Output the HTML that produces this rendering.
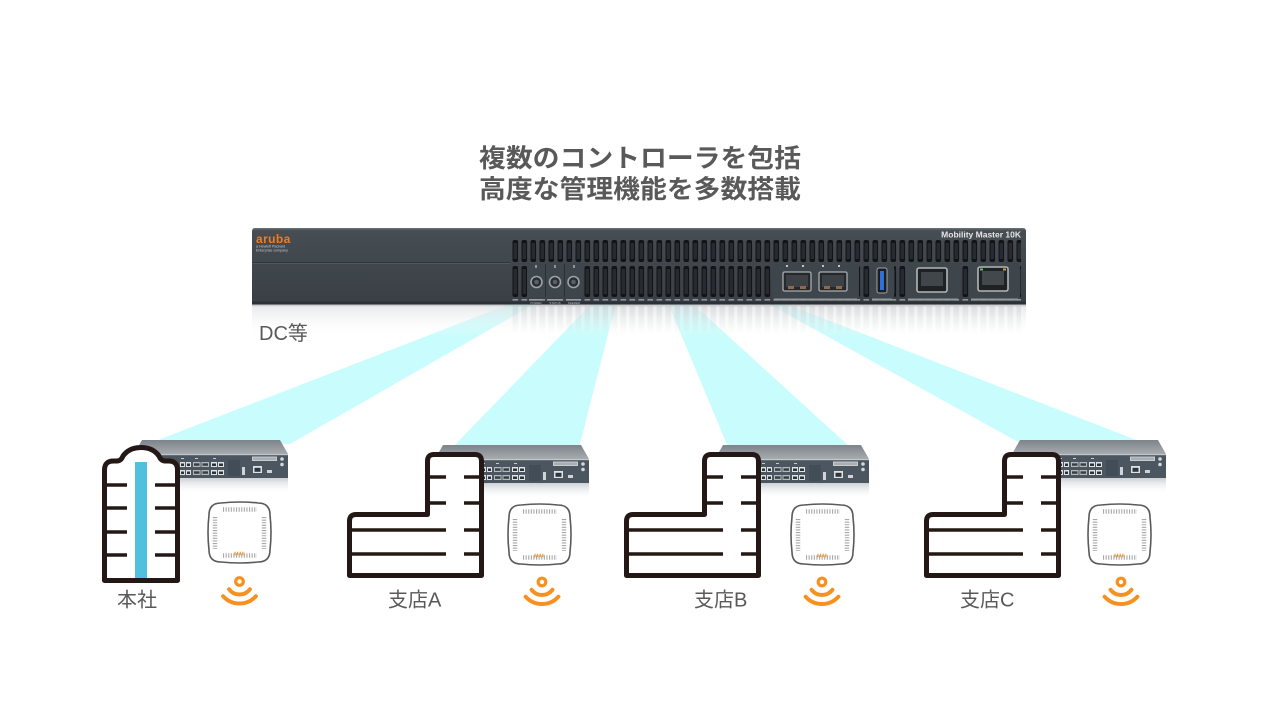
<!DOCTYPE html>
<html>
<head>
<meta charset="utf-8">
<style>
  html,body{margin:0;padding:0;background:#ffffff;}
  body{width:1280px;height:720px;overflow:hidden;}
  svg{display:block;}
  .t{font-family:"Liberation Sans","Noto Sans CJK JP",sans-serif;}
</style>
</head>
<body>
<svg width="1280" height="720" viewBox="0 0 1280 720" xmlns="http://www.w3.org/2000/svg">
<defs>
  <linearGradient id="body" x1="0" y1="0" x2="0" y2="1">
    <stop offset="0" stop-color="#555c62"/>
    <stop offset="0.04" stop-color="#464d53"/>
    <stop offset="1" stop-color="#393f44"/>
  </linearGradient>
  <linearGradient id="refl" x1="0" y1="0" x2="0" y2="1">
    <stop offset="0" stop-color="#8f959a" stop-opacity="0.9"/>
    <stop offset="0.12" stop-color="#e2e4e6" stop-opacity="0.75"/>
    <stop offset="1" stop-color="#ffffff" stop-opacity="0"/>
  </linearGradient>
  <linearGradient id="slotFade" x1="0" y1="0" x2="0" y2="1">
    <stop offset="0" stop-color="#8a9095" stop-opacity="0.16"/>
    <stop offset="1" stop-color="#8a9095" stop-opacity="0"/>
  </linearGradient>
  <pattern id="vents" patternUnits="userSpaceOnUse" x="511" y="238" width="9" height="64">
    <rect x="1.5" y="2" width="5.6" height="22" rx="2" fill="#121417"/>
    <rect x="2.6" y="5" width="3.4" height="16" fill="#272b2f"/>
    <rect x="1.5" y="28" width="5.6" height="31" rx="2" fill="#121417"/>
    <rect x="2.6" y="31" width="3.4" height="25" fill="#272b2f"/>
    <rect x="1.5" y="61" width="5.6" height="1.6" fill="#8e9499"/>
  </pattern>
  <pattern id="ventsR" patternUnits="userSpaceOnUse" x="511" y="306" width="9" height="30">
    <rect x="1.5" y="0" width="5.6" height="28" fill="url(#slotFade)"/>
  </pattern>
  <linearGradient id="ctop" x1="0" y1="0" x2="0" y2="1">
    <stop offset="0" stop-color="#7d848a"/>
    <stop offset="1" stop-color="#a6abaf"/>
  </linearGradient>
  <linearGradient id="cref" x1="0" y1="0" x2="0" y2="1">
    <stop offset="0" stop-color="#9aa2a9" stop-opacity="0.5"/>
    <stop offset="1" stop-color="#ffffff" stop-opacity="0"/>
  </linearGradient>

  <g id="ctl">
    <polygon points="7,0 145,0 153,14 -1,14" fill="url(#ctop)"/>
    <rect x="-1" y="14" width="154" height="24" fill="#4b5661"/>
    <rect x="-1" y="14" width="154" height="1.2" fill="#c4c8cb"/>
    <rect x="-1" y="38" width="154" height="16" fill="url(#cref)"/>
    <rect x="46" y="18" width="3" height="1" fill="#c9cdd0"/>
    <rect x="60" y="18" width="3" height="1" fill="#c9cdd0"/>
    <rect x="78" y="18" width="3" height="1" fill="#c9cdd0"/>
    <rect x="45" y="22" width="5" height="5" fill="#dde1e4"/><rect x="46" y="23.5" width="3" height="2.5" fill="#2c3236"/>
    <rect x="51" y="22" width="5" height="5" fill="#dde1e4"/><rect x="52" y="23.5" width="3" height="2.5" fill="#2c3236"/>
    <rect x="45" y="30" width="5" height="5" fill="#dde1e4"/><rect x="46" y="31.5" width="3" height="2.5" fill="#2c3236"/>
    <rect x="51" y="30" width="5" height="5" fill="#dde1e4"/><rect x="52" y="31.5" width="3" height="2.5" fill="#2c3236"/>
    <rect x="58" y="22" width="7.5" height="5" fill="#b4b9bd"/><rect x="59" y="23.3" width="5.5" height="2.5" fill="#3a3f43"/>
    <rect x="66.5" y="22" width="7.5" height="5" fill="#b4b9bd"/><rect x="67.5" y="23.3" width="5.5" height="2.5" fill="#3a3f43"/>
    <rect x="58" y="30" width="7.5" height="5" fill="#b4b9bd"/><rect x="59" y="31.3" width="5.5" height="2.5" fill="#3a3f43"/>
    <rect x="66.5" y="30" width="7.5" height="5" fill="#b4b9bd"/><rect x="67.5" y="31.3" width="5.5" height="2.5" fill="#3a3f43"/>
    <rect x="76" y="22" width="6" height="5" fill="#e2e5e8"/><rect x="77" y="23.5" width="4" height="2.5" fill="#2c3236"/>
    <rect x="83" y="22" width="6" height="5" fill="#e2e5e8"/><rect x="84" y="23.5" width="4" height="2.5" fill="#2c3236"/>
    <rect x="76" y="30" width="6" height="5" fill="#e2e5e8"/><rect x="77" y="31.5" width="4" height="2.5" fill="#2c3236"/>
    <rect x="83" y="30" width="6" height="5" fill="#e2e5e8"/><rect x="84" y="31.5" width="4" height="2.5" fill="#2c3236"/>
    <rect x="93" y="20" width="12" height="16" fill="#434d57"/>
    <rect x="107" y="27" width="3" height="8" fill="#d0d4d7"/>
    <rect x="118" y="26" width="9" height="7" fill="#dfe3e6"/><rect x="119.5" y="27.8" width="6" height="4" fill="#30363b"/>
    <rect x="132" y="30" width="5" height="3" fill="#cfd3d6"/>
    <rect x="117" y="16.5" width="25" height="4.5" fill="#c9cdd0"/>
    <rect x="118" y="17.5" width="23" height="2.5" fill="#a9aeb2"/>
    <circle cx="147" cy="19" r="1.8" fill="#d5d8db"/>
    <circle cx="147" cy="24.5" r="1.8" fill="#d5d8db"/>
  </g>

  <g id="ap">
    <path d="M12,0 Q31,-2 49,0 Q61,0 61,12 Q63,29.5 61,47 Q61,59 49,59 Q31,61 12,59 Q0,59 0,47 Q-2,29.5 0,12 Q0,0 12,0 Z" fill="#ffffff" stroke="#5a5a5a" stroke-width="1.6"/>
    <line x1="14" y1="6.5" x2="48" y2="6.5" stroke="#a8a8a8" stroke-width="4.5" stroke-dasharray="1.1 1.5"/>
    <line x1="6" y1="14" x2="6" y2="46" stroke="#a8a8a8" stroke-width="4.5" stroke-dasharray="1.1 1.5"/>
    <line x1="55" y1="14" x2="55" y2="46" stroke="#a8a8a8" stroke-width="4.5" stroke-dasharray="1.1 1.5"/>
    <line x1="14" y1="52.5" x2="48" y2="52.5" stroke="#a8a8a8" stroke-width="4.5" stroke-dasharray="1.1 1.5"/>
    <line x1="25.5" y1="50.5" x2="36" y2="50.5" stroke="#f7901e" stroke-width="3.5" stroke-dasharray="1.1 1.5"/>
  </g>

  <g id="wifi" fill="none" stroke="#f7901e" stroke-linecap="round">
    <circle cx="0" cy="0" r="3.8" stroke-width="3.2"/>
    <path d="M10.4,7.8 A13,13 0 0 1 -10.4,7.8" stroke-width="4"/>
    <path d="M16.4,14.7 A22,22 0 0 1 -16.4,14.7" stroke-width="4"/>
  </g>

  <g id="branch">
    <path d="M349.5,575.5 V521 Q349.5,514.5 356,514.5 H427.5 V461 Q427.5,454.5 434,454.5 H475 Q481.5,454.5 481.5,461 V575.5 Z" fill="#ffffff" stroke="#231815" stroke-width="5" stroke-linejoin="round"/>
    <g stroke="#231815" stroke-width="3.6">
      <line x1="429" y1="477" x2="446" y2="477"/>
      <line x1="464" y1="477" x2="481" y2="477"/>
      <line x1="429" y1="503" x2="446" y2="503"/>
      <line x1="464" y1="503" x2="481" y2="503"/>
      <line x1="350" y1="530" x2="446" y2="530"/>
      <line x1="464" y1="530" x2="481" y2="530"/>
      <line x1="350" y1="554" x2="446" y2="554"/>
      <line x1="464" y1="554" x2="481" y2="554"/>
    </g>
  </g>
</defs>

<!-- Title -->
<text class="t" x="479" y="167" font-size="25.5" font-weight="bold" fill="#595959" textLength="322" lengthAdjust="spacingAndGlyphs">複数のコントローラを包括</text>
<text class="t" x="479" y="198" font-size="25.5" font-weight="bold" fill="#595959" textLength="322" lengthAdjust="spacingAndGlyphs">高度な管理機能を多数搭載</text>

<!-- Beams -->
<g fill="#c9fcfc">
  <polygon points="512,303 536,303 290,444 148,444"/>
  <polygon points="592,303 616,303 579,448 452,448"/>
  <polygon points="668,303 692,303 850,447 728,447"/>
  <polygon points="767,303 784,303 1144,443 1020,443"/>
</g>

<!-- Main device reflection -->
<rect x="252" y="303" width="774" height="34" fill="url(#refl)"/>
<rect x="511" y="306" width="510" height="30" fill="url(#ventsR)"/>

<!-- Main device -->
<rect x="252" y="228" width="774" height="76" rx="3" fill="url(#body)"/>
<rect x="253" y="228.3" width="772" height="1" fill="#6e757b"/>
<rect x="252" y="301.5" width="774" height="3" fill="#2c3135"/>
<rect x="252" y="262" width="258" height="1" fill="#30363a"/>
<rect x="252" y="263" width="258" height="1" fill="#51585e"/>
<rect x="511" y="238" width="510" height="64" fill="url(#vents)"/>

<!-- aruba logo -->
<text class="t" x="256" y="243" font-size="12" font-weight="bold" fill="#f47b20" letter-spacing="0.4">aruba</text>
<text class="t" x="256" y="247.5" font-size="3.6" fill="#c8c8c8">a Hewlett Packard</text>
<text class="t" x="256" y="251.5" font-size="3.6" fill="#c8c8c8">Enterprise company</text>

<!-- Model text -->
<text class="t" x="1021" y="237.5" text-anchor="end" font-size="8.5" font-weight="bold" fill="#e6e6e6">Mobility Master 10K</text>

<!-- Power panel -->
<rect x="527" y="263" width="56" height="35" fill="#3e454b"/>
<line x1="545.5" y1="264" x2="545.5" y2="297" stroke="#2a2f33" stroke-width="1"/>
<line x1="564.5" y1="264" x2="564.5" y2="297" stroke="#2a2f33" stroke-width="1"/>
<rect x="535" y="265" width="2" height="3" fill="#8d9398"/>
<rect x="554" y="265" width="2" height="3" fill="#8d9398"/>
<rect x="573" y="265" width="2" height="3" fill="#8d9398"/>
<circle cx="536.5" cy="282" r="5.5" fill="#2b2f33" stroke="#9ca2a7" stroke-width="1.6"/>
<circle cx="536.5" cy="282" r="2.3" fill="#596067"/>
<circle cx="555" cy="282" r="5.5" fill="#2b2f33" stroke="#9ca2a7" stroke-width="1.6"/>
<circle cx="555" cy="282" r="2.3" fill="#596067"/>
<circle cx="573.5" cy="282" r="5.5" fill="#2b2f33" stroke="#9ca2a7" stroke-width="1.6"/>
<circle cx="573.5" cy="282" r="2.3" fill="#596067"/>
<rect x="529" y="299" width="14" height="1.6" fill="#9aa0a5"/>
<rect x="547" y="299" width="15" height="1.6" fill="#9aa0a5"/>
<rect x="566" y="299" width="15" height="1.6" fill="#9aa0a5"/>
<text class="t" x="536" y="304" text-anchor="middle" font-size="3" fill="#b9bdc0">POWER</text>
<text class="t" x="555" y="304" text-anchor="middle" font-size="3" fill="#b9bdc0">STATUS</text>
<text class="t" x="574" y="304" text-anchor="middle" font-size="3" fill="#b9bdc0">PEERED</text>

<!-- SFP panel -->
<rect x="772" y="262" width="87" height="36" fill="#3e454b"/>
<rect x="786" y="265" width="2" height="2" fill="#c0c4c7"/>
<rect x="802" y="265" width="2" height="2" fill="#c0c4c7"/>
<rect x="822" y="265" width="2" height="2" fill="#c0c4c7"/>
<rect x="838" y="265" width="2" height="2" fill="#c0c4c7"/>
<rect x="783" y="272" width="28" height="19" rx="1.5" fill="#26292c" stroke="#a8adb1" stroke-width="1.3"/>
<rect x="786" y="275" width="22" height="12" fill="#3c4146"/>
<rect x="788" y="286" width="6" height="3" fill="#8d6b4a"/>
<rect x="800" y="286" width="6" height="3" fill="#8d6b4a"/>
<rect x="819" y="272" width="28" height="19" rx="1.5" fill="#26292c" stroke="#a8adb1" stroke-width="1.3"/>
<rect x="822" y="275" width="22" height="12" fill="#3c4146"/>
<rect x="824" y="286" width="6" height="3" fill="#8d6b4a"/>
<rect x="836" y="286" width="6" height="3" fill="#8d6b4a"/>
<rect x="774" y="298.5" width="83" height="2" fill="#939a9f"/>

<!-- USB panel -->
<rect x="870" y="262" width="24" height="36" fill="#3e454b"/>
<rect x="877" y="268" width="10" height="25" rx="2" fill="#1b1e21" stroke="#9ea4a9" stroke-width="1"/>
<rect x="880" y="271" width="4" height="19" fill="#2f6fd8"/>
<rect x="872" y="298.5" width="20" height="2" fill="#939a9f"/>

<!-- Console panel -->
<rect x="906" y="262" width="54" height="36" fill="#3e454b"/>
<rect x="917" y="268" width="30" height="24" rx="2" fill="#1f2225" stroke="#b2b7bb" stroke-width="1.6"/>
<rect x="921" y="272" width="22" height="14" fill="#41464b"/>
<rect x="908" y="298.5" width="50" height="2" fill="#939a9f"/>

<!-- Mgmt panel -->
<rect x="969" y="262" width="51" height="36" fill="#3e454b"/>
<rect x="978" y="267" width="30" height="24" rx="2" fill="#1f2225" stroke="#b2b7bb" stroke-width="1.6"/>
<rect x="982" y="271" width="22" height="14" fill="#43484d"/>
<rect x="980" y="268.5" width="3" height="2" fill="#6fbf5a"/>
<rect x="1003" y="268.5" width="3" height="2" fill="#c9a34a"/>
<rect x="971" y="298.5" width="47" height="2" fill="#939a9f"/>

<!-- DC label -->
<text class="t" x="259" y="340" font-size="20" fill="#595959">DC等</text>

<!-- Controllers -->
<use href="#ctl" transform="translate(135,440)"/>
<use href="#ctl" transform="translate(436,445)"/>
<use href="#ctl" transform="translate(716,445)"/>
<use href="#ctl" transform="translate(1013,440)"/>

<!-- HQ building -->
<path d="M104.5,580.5 V470 Q104.5,461 113.5,461 H117 Q121,461 123,456 Q129,447.5 141,447.5 Q153,447.5 159,456 Q161,461 165,461 H168.5 Q177.5,461 177.5,470 V580.5 Z" fill="#ffffff" stroke="#231815" stroke-width="5" stroke-linejoin="round"/>
<rect x="135" y="462" width="12" height="116" fill="#4fc0e0"/>
<g stroke="#231815" stroke-width="3.6">
  <line x1="104" y1="485" x2="127" y2="485"/>
  <line x1="155" y1="485" x2="178" y2="485"/>
  <line x1="104" y1="508" x2="127" y2="508"/>
  <line x1="155" y1="508" x2="178" y2="508"/>
  <line x1="104" y1="532" x2="127" y2="532"/>
  <line x1="155" y1="532" x2="178" y2="532"/>
  <line x1="104" y1="555" x2="127" y2="555"/>
  <line x1="155" y1="555" x2="178" y2="555"/>
</g>

<!-- Branch buildings -->
<use href="#branch"/>
<use href="#branch" transform="translate(277,0)"/>
<use href="#branch" transform="translate(577,0)"/>

<!-- APs -->
<use href="#ap" transform="translate(209,503)"/>
<use href="#ap" transform="translate(509,505)"/>
<use href="#ap" transform="translate(792,505)"/>
<use href="#ap" transform="translate(1089,505)"/>

<!-- WiFi icons -->
<use href="#wifi" transform="translate(239.5,581.5)"/>
<use href="#wifi" transform="translate(542,582)"/>
<use href="#wifi" transform="translate(822,582)"/>
<use href="#wifi" transform="translate(1121,582)"/>

<!-- Labels -->
<text class="t" x="117" y="606.5" font-size="20" fill="#595959">本社</text>
<text class="t" x="388" y="606.5" font-size="20" fill="#595959">支店A</text>
<text class="t" x="694" y="606.5" font-size="20" fill="#595959">支店B</text>
<text class="t" x="960" y="606.5" font-size="20" fill="#595959">支店C</text>
</svg>
</body>
</html>
